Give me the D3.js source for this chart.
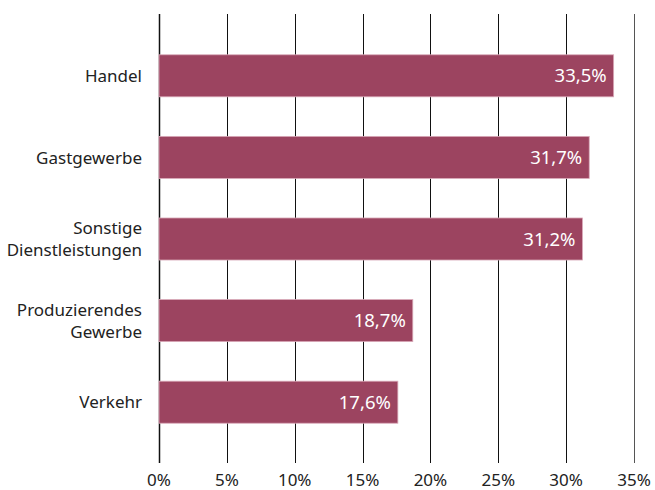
<!DOCTYPE html>
<html>
<head>
  <meta charset="UTF-8">
  <title>Anteil nach Branchen</title>
  <style>
    body{ margin:0; background:#fff; }
    text{ font-family:"Noto Sans", "Open Sans", sans-serif; }
  </style>
</head>
<body>
<svg></svg>
<script src="https://d3js.org/d3.v7.min.js"></script>
<script>

let width = 655, height = 490;

// data
let categories = [["Handel"], ["Gastgewerbe"], ["Sonstige", "Dienstleistungen"], ["Produzierendes", "Gewerbe"], ["Verkehr"]];
let values = [33.5, 31.7, 31.2, 18.7, 17.6];
let ticks = [0, 5, 10, 15, 20, 25, 30, 35];

let svg = d3.select("svg")
    .attr("width", width)
    .attr("height", height);

let x = d3.scaleLinear()
    .domain([0, 35])
    .range([159, 634]);

let y = d3.scaleBand()
    .domain(d3.range(values.length))
    .range([35, 443])
    .paddingInner(0.485)
    .paddingOuter(0.2425);

let fmt = d => d.toFixed(1).replace(".", ",") + "%";

// gridlines
svg.append("g")
    .selectAll("line")
    .data(ticks)
    .enter().append("line")
    .attr("x1", d => Math.round(x(d)) + 0.5)
    .attr("x2", d => Math.round(x(d)) + 0.5)
    .attr("y1", 14)
    .attr("y2", 463)
    .attr("stroke", d => d === 35 ? "#555" : "#111")
    .attr("stroke-width", d => d === 0 ? 1.5 : 1);

// bars
svg.append("g")
    .selectAll("rect")
    .data(values)
    .enter().append("rect")
    .attr("x", x(0))
    .attr("y", (d, i) => y(i))
    .attr("width", d => x(d) - x(0))
    .attr("height", y.bandwidth())
    .attr("fill", "#9c4460")
    .attr("stroke", "#d9a9b8")
    .attr("stroke-width", 0.8);

// value labels
svg.append("g")
    .selectAll("text")
    .data(values)
    .enter().append("text")
    .attr("x", d => x(d) - 7)
    .attr("y", (d, i) => y(i) + y.bandwidth() / 2)
    .attr("dy", "0.36em")
    .attr("text-anchor", "end")
    .attr("fill", "#fff")
    .attr("font-size", 18.5)
    .text(fmt);

// category labels
svg.append("g")
    .selectAll("text")
    .data(categories)
    .enter().append("text")
    .attr("text-anchor", "end")
    .attr("font-size", 17)
    .attr("fill", "#222")
    .attr("transform", (d, i) => "translate(142," + (y(i) + y.bandwidth() / 2) + ")")
    .each(function(d) {
        let t = d3.select(this);
        let lh = 22;
        d.forEach((line, k) => {
            t.append("tspan")
                .attr("x", 0)
                .attr("y", (k - (d.length - 1) / 2) * lh)
                .attr("dy", "0.36em")
                .text(line);
        });
    });

// x axis labels
svg.append("g")
    .selectAll("text")
    .data(ticks)
    .enter().append("text")
    .attr("x", d => x(d))
    .attr("y", 486)
    .attr("text-anchor", "middle")
    .attr("font-size", 17)
    .attr("fill", "#222")
    .text(d => d + "%");

</script>
</body>
</html>
